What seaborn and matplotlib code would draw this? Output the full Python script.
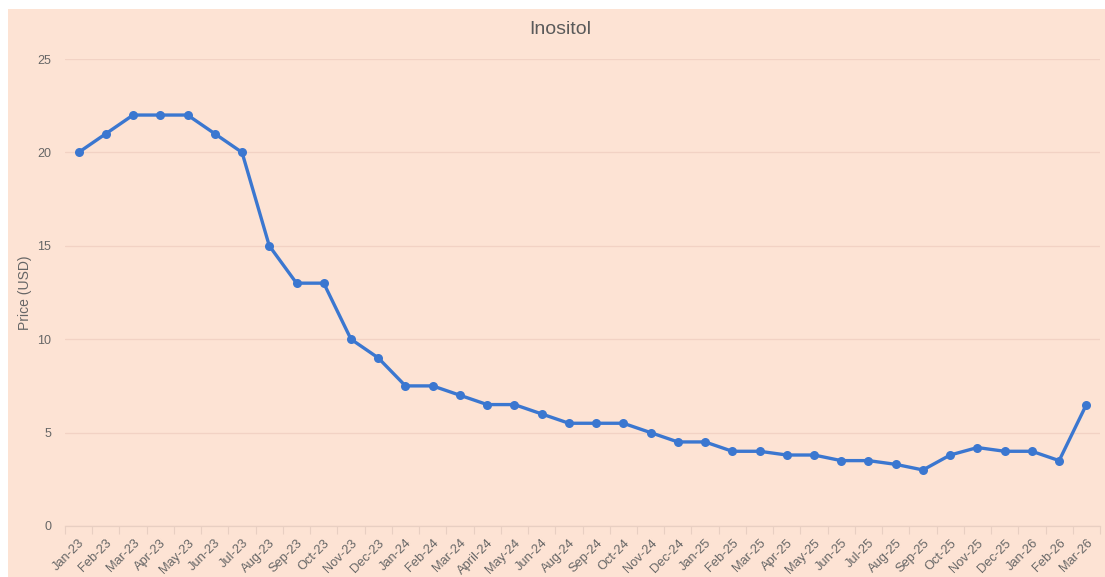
import matplotlib
matplotlib.use("Agg")
import matplotlib.pyplot as plt
from matplotlib.patches import Rectangle
import seaborn as sns
import pandas as pd

months = ["Jan-23", "Feb-23", "Mar-23", "Apr-23", "May-23", "Jun-23", "Jul-23", "Aug-23",
          "Sep-23", "Oct-23", "Nov-23", "Dec-23", "Jan-24", "Feb-24", "Mar-24", "April-24",
          "May-24", "Jun-24", "Aug-24", "Sep-24", "Oct-24", "Nov-24", "Dec-24", "Jan-25",
          "Feb-25", "Mar-25", "Apr-25", "May-25", "Jun-25", "Jul-25", "Aug-25", "Sep-25",
          "Oct-25", "Nov-25", "Dec-25", "Jan-26", "Feb-26", "Mar-26"]
prices = [20, 21, 22, 22, 22, 21, 20, 15,
          13, 13, 10, 9, 7.5, 7.5, 7, 6.5,
          6.5, 6, 5.5, 5.5, 5.5, 5, 4.5, 4.5,
          4, 4, 3.8, 3.8, 3.5, 3.5, 3.3, 3.0,
          3.8, 4.2, 4.0, 4.0, 3.5, 6.5]
y_ticks = [0, 5, 10, 15, 20, 25]

df = pd.DataFrame({"Month": months, "Price": prices})

sns.set_theme(style="white")
plt.rcParams['font.family'] = ['Liberation Sans', 'DejaVu Sans']

W, H = 1105, 577
fig = plt.figure(figsize=(W / 100, H / 100), dpi=100)
fig.patch.set_facecolor("white")
bg = "#FDE3D4"
fig.patches.append(Rectangle((8 / W, 0), 1 - 8 / W, 1 - 9 / H, transform=fig.transFigure,
                             facecolor=bg, edgecolor="none", zorder=-10))

ax = fig.add_axes([65 / W, 51 / H, (1100 - 65) / W, (526 - 59) / H])
ax.set_facecolor(bg)

x = list(range(len(months)))
sns.lineplot(x=x, y=df["Price"], ax=ax, color="#3B77D0", linewidth=2.4,
             marker="o", markersize=6.5, markeredgewidth=0, markeredgecolor="#3B77D0")

ax.set_xlim(-0.5, len(months) - 0.5)
ax.set_ylim(0, 25)
ax.set_yticks(y_ticks)
ax.set_yticklabels([str(t) for t in y_ticks], color="#666666", fontsize=9)
ax.grid(axis="y", color="#F2D2C4", linewidth=0.9)
ax.set_axisbelow(True)

ax.set_xticks(x)
ax.set_xticklabels(months, rotation=45, ha="right", rotation_mode="anchor",
                   color="#666666", fontsize=9.3)
ax.tick_params(axis="x", which="major", length=0, pad=8)
ax.tick_params(axis="y", length=0, pad=10)
# band boundary ticks
ax.set_xticks([i - 0.5 for i in range(len(months) + 1)], minor=True)
ax.tick_params(axis="x", which="minor", bottom=True, length=6, color="#E8CFC2", width=0.8)

for s in ["top", "right", "left"]:
    ax.spines[s].set_visible(False)
ax.spines["bottom"].set_color("#E8CFC2")
ax.spines["bottom"].set_linewidth(0.9)

ax.set_xlabel("")
ax.set_ylabel("Price (USD)", color="#666666", fontsize=10)
ax.yaxis.set_label_coords((32 - 65) / (1100 - 65), 0.5)
fig.text(560 / W, 1 - 30 / H, "Inositol", ha="center", va="center",
         fontsize=14, color="#5A5A5A")

fig.savefig("out.png", dpi=100, facecolor=fig.get_facecolor())
